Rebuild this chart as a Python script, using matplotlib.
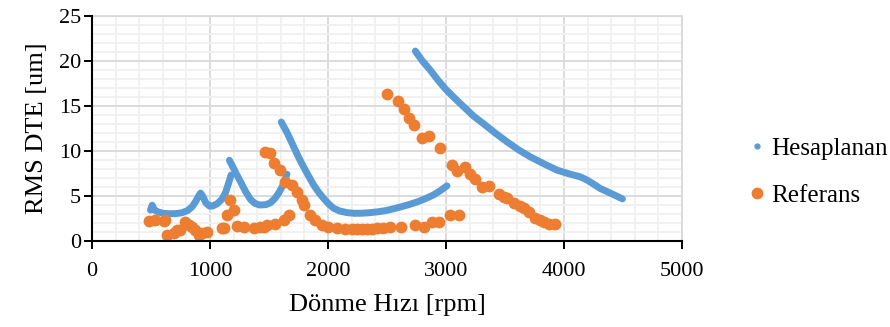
import numpy as np
import matplotlib.pyplot as plt
from matplotlib.lines import Line2D

plt.rcParams['font.family'] = ['Liberation Serif', 'DejaVu Serif']

# Hesaplanan - parçalar halinde okunan eğriler (rpm, um)
h1_rpm = [495, 510, 530, 560, 600, 650, 700, 760, 810, 850, 880, 905, 920, 940, 965, 995, 1020,
          1060, 1100, 1130, 1155, 1178]
h1_val = [3.4, 3.95, 3.4, 3.2, 3.05, 3.0, 3.0, 3.1, 3.35, 3.8, 4.4, 5.0, 5.3, 4.9, 4.2, 3.85, 3.85,
          4.1, 4.6, 5.3, 6.3, 7.3]
h2_rpm = [1164, 1190, 1220, 1257, 1300, 1342, 1380, 1420, 1470, 1511, 1550, 1582, 1615, 1652]
h2_val = [8.95, 8.3, 7.5, 6.6, 5.5, 4.6, 4.15, 3.97, 4.0, 4.2, 4.7, 5.3, 6.1, 7.4]
h3_rpm = [1604, 1650, 1709, 1750, 1793, 1835, 1878, 1920, 1963, 2005, 2048, 2100, 2161, 2220,
          2274, 2340, 2415, 2490, 2556, 2613, 2669, 2754, 2830, 2895, 2950, 3008]
h3_val = [13.2, 12.1, 10.45, 9.3, 8.2, 7.2, 6.2, 5.4, 4.7, 4.1, 3.6, 3.3, 3.12, 3.05,
          3.05, 3.1, 3.2, 3.35, 3.55, 3.75, 3.95, 4.3, 4.7, 5.1, 5.55, 6.1]
h4_rpm = [2740, 2800, 2867, 2930, 2994, 3070, 3150, 3230, 3319, 3420, 3517, 3610, 3714, 3830,
          3941, 4040, 4138, 4195, 4250, 4308, 4400, 4495]
h4_val = [21.1, 20.0, 18.97, 17.9, 16.9, 15.9, 14.9, 13.9, 13.0, 11.95, 11.0, 10.15, 9.33, 8.55,
          7.85, 7.45, 7.1, 6.75, 6.3, 5.8, 5.25, 4.65]

# Referans noktaları
r_rpm = [480, 536, 607, 621, 635, 692, 720, 748, 791, 819, 847, 875, 904, 932, 975,
         1102, 1115, 1144, 1166, 1200, 1229, 1285, 1370, 1420, 1455, 1469, 1483, 1511,
         1540, 1553, 1596, 1630, 1638, 1666, 1695, 1737, 1780, 1793, 1850, 1892, 1949,
         2000, 2076, 2147, 2200, 2246, 2290, 2330, 2370, 2415, 2470, 2503, 2528, 2596,
         2620, 2647, 2689, 2725, 2740, 2797, 2810, 2853, 2881, 2937, 2946, 3037, 3051,
         3093, 3107, 3164, 3206, 3248, 3305, 3361, 3446, 3490, 3517, 3573, 3630, 3658,
         3700, 3757, 3800, 3830, 3870, 3926]
r_val = [2.15, 2.3, 2.2, 2.3, 0.63, 0.9, 1.2, 1.2, 2.1, 1.7, 1.55, 1.2, 0.63, 0.8, 1.0,
         1.4, 1.4, 2.85, 4.5, 3.4, 1.6, 1.5, 1.4, 1.5, 1.55, 9.9, 1.75, 9.8,
         8.6, 1.9, 7.9, 2.3, 6.55, 2.85, 6.2, 5.45, 4.5, 3.97, 2.85, 2.3, 1.75,
         1.55, 1.38, 1.3, 1.28, 1.27, 1.28, 1.3, 1.35, 1.38, 1.45, 16.3, 1.55, 15.5,
         1.5, 14.6, 13.7, 12.9, 1.75, 11.4, 1.55, 11.7, 2.1, 2.1, 10.3, 2.85, 8.4,
         7.7, 2.85, 8.2, 7.4, 6.9, 6.0, 6.1, 5.2, 4.9, 4.7, 4.15, 3.86, 3.6,
         3.2, 2.5, 2.3, 2.05, 1.8, 1.8]

blue = '#5B9BD5'
orange = '#ED7D31'

fig = plt.figure(figsize=(8.9, 3.27), dpi=100)
ax = fig.add_axes([0.1034, 0.264, 0.6629, 0.687])

for xs, ys in [(h1_rpm, h1_val), (h2_rpm, h2_val), (h3_rpm, h3_val), (h4_rpm, h4_val)]:
    ax.plot(xs, ys, color=blue, lw=5, solid_capstyle='round', solid_joinstyle='round', zorder=3)
ax.plot(r_rpm, r_val, 'o', color=orange, ms=8.5, mec='none', zorder=4)

ax.set_xlim(0, 5000)
ax.set_ylim(0, 25)
ax.set_xticks(np.arange(0, 5001, 1000))
ax.set_yticks(np.arange(0, 26, 5))
ax.set_xticks(np.arange(0, 5001, 200), minor=True)
ax.set_yticks(np.arange(0, 26, 1), minor=True)
ax.grid(which='major', color='#d9d9d9', lw=1.3, zorder=1)
ax.grid(which='minor', color='#f0f0f0', lw=1.3, zorder=0)
ax.set_axisbelow(True)
ax.tick_params(which='minor', length=0)
ax.tick_params(which='major', direction='out', length=6, width=1.4, labelsize=16, color='black')
ax.tick_params(axis='x', pad=9)
ax.tick_params(axis='y', pad=2)

for s in ['top', 'right']:
    ax.spines[s].set_color('#d9d9d9')
    ax.spines[s].set_linewidth(1.3)
for s in ['left', 'bottom']:
    ax.spines[s].set_color('black')
    ax.spines[s].set_linewidth(1.5)
    ax.spines[s].set_zorder(5)

ax.set_xlabel('Dönme Hızı [rpm]', fontsize=19, labelpad=10)
ax.set_ylabel('RMS DTE [um]', fontsize=19, labelpad=8)

handles = [Line2D([], [], ls='', marker='o', color=blue, ms=4.5, mec='none'),
           Line2D([], [], ls='', marker='o', color=orange, ms=8.5, mec='none')]
ax.legend(handles, ['Hesaplanan', 'Referans'], loc='center left',
          bbox_to_anchor=(0.817, 0.474), bbox_transform=fig.transFigure,
          frameon=False, fontsize=18, handlelength=0.6, handletextpad=0.25, labelspacing=1.0)

fig.savefig('out.png', dpi=100)
